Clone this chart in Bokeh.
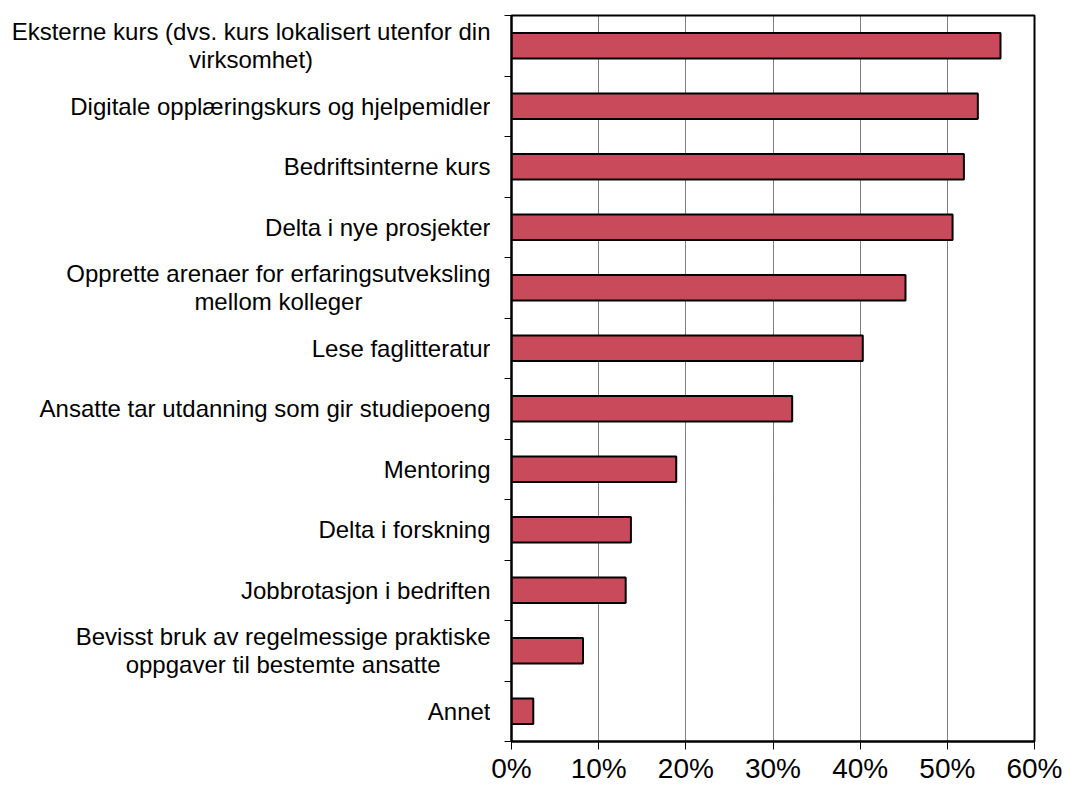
from bokeh.plotting import figure
from bokeh.layouts import row
from bokeh.models import ColumnDataSource, Range1d, FixedTicker, NumeralTickFormatter
from bokeh.core.properties import value
from bokeh.embed import file_html
from bokeh.resources import INLINE

categories = [
    "Eksterne kurs (dvs. kurs lokalisert utenfor din\nvirksomhet)",
    "Digitale opplæringskurs og hjelpemidler",
    "Bedriftsinterne kurs",
    "Delta i nye prosjekter",
    "Opprette arenaer for erfaringsutveksling\nmellom kolleger",
    "Lese faglitteratur",
    "Ansatte tar utdanning som gir studiepoeng",
    "Mentoring",
    "Delta i forskning",
    "Jobbrotasjon i bedriften",
    "Bevisst bruk av regelmessige praktiske\noppgaver til bestemte ansatte",
    "Annet",
]
values = [0.561, 0.535, 0.519, 0.506, 0.452, 0.403, 0.322, 0.189, 0.137, 0.131, 0.082, 0.025]
x_ticks = [0, 0.1, 0.2, 0.3, 0.4, 0.5, 0.6]

FONT = "Liberation Sans"
LABEL_SIZE = 24
H = 786
TOP, BOTTOM = 15, 43
LABEL_W = 490        # width of the label panel (labels end here)
PLOT_W = 572
GAP = 21             # gap between labels and axis

# Arial / Liberation Sans advance widths (1/1000 em), used to centre multi-line labels
_W = {" ": 278, "(": 333, ")": 333, ".": 278, "a": 556, "b": 556, "c": 500, "d": 556,
      "e": 556, "f": 278, "g": 556, "h": 556, "i": 222, "j": 222, "k": 500, "l": 222,
      "m": 833, "n": 556, "o": 556, "p": 556, "q": 556, "r": 333, "s": 500, "t": 278,
      "u": 556, "v": 500, "w": 722, "x": 500, "y": 500, "z": 500, "æ": 889, "ø": 611,
      "å": 556, "A": 667, "B": 667, "D": 722, "E": 667, "J": 500, "L": 556, "M": 833,
      "O": 778, "S": 667}


def text_width(s, size):
    return sum(_W.get(ch, 556) for ch in s) * size / 1000.0


n = len(categories)
centers = [i + 0.5 for i in range(n)]
bounds = list(range(n + 1))

# ---- label panel ----
lx, lalign = [], []
for lab in categories:
    lines = lab.split("\n")
    if len(lines) > 1:
        w = max(text_width(l, LABEL_SIZE) for l in lines)
        lx.append(LABEL_W - w / 2.0)
        lalign.append("center")
    else:
        lx.append(LABEL_W)
        lalign.append("right")

lsrc = ColumnDataSource(dict(x=lx, y=centers, t=categories, a=lalign))
pl = figure(width=LABEL_W, height=H, output_backend="svg", toolbar_location=None,
            x_range=Range1d(0, LABEL_W), y_range=Range1d(n, 0),
            min_border_left=0, min_border_right=0, min_border_top=TOP, min_border_bottom=BOTTOM)
pl.axis.visible = False
pl.grid.visible = False
pl.outline_line_color = None
pl.text(x="x", y="y", text="t", text_align="a", text_baseline="middle", source=lsrc,
        text_font=value(FONT), text_font_size=f"{LABEL_SIZE}px", text_color="black",
        text_line_height=1.05)

# ---- bar panel ----
src = ColumnDataSource(dict(y=centers, v=values))
p = figure(width=PLOT_W, height=H, output_backend="svg", toolbar_location=None,
           x_range=Range1d(0, 0.6), y_range=pl.y_range,
           min_border_left=GAP, min_border_right=28, min_border_top=TOP, min_border_bottom=BOTTOM)

p.hbar(y="y", right="v", left=0, height=0.42, source=src,
       fill_color="#C94B5B", line_color="black", line_width=2)

p.outline_line_color = "black"
p.outline_line_width = 2
p.background_fill_color = "white"
p.border_fill_color = "white"

xa = p.xaxis[0]
xa.ticker = FixedTicker(ticks=x_ticks, minor_ticks=[])
xa.formatter = NumeralTickFormatter(format="0%")
xa.axis_line_width = 2
xa.axis_line_color = "black"
xa.major_tick_out = 8
xa.major_tick_in = 0
xa.major_tick_line_width = 1
xa.major_tick_line_color = "black"
xa.minor_tick_out = 0
xa.minor_tick_in = 0
xa.major_label_text_font = FONT
xa.major_label_text_font_size = "28px"
xa.major_label_text_color = "black"
xa.major_label_standoff = 3

ya = p.yaxis[0]
ya.ticker = FixedTicker(ticks=[], minor_ticks=bounds)
ya.axis_line_width = 2
ya.axis_line_color = "black"
ya.major_tick_out = 0
ya.major_tick_in = 0
ya.minor_tick_out = 7
ya.minor_tick_in = 0
ya.minor_tick_line_width = 1
ya.minor_tick_line_color = "black"
ya.major_label_text_font_size = "0px"
ya.major_label_standoff = 0

p.xgrid.ticker = FixedTicker(ticks=x_ticks[1:-1])
p.xgrid.grid_line_color = "black"
p.xgrid.grid_line_dash = "1 1"
p.xgrid.grid_line_width = 1
p.ygrid.grid_line_color = None

layout = row(pl, p, spacing=0)
open("out.html", "w").write(file_html(layout, INLINE))
